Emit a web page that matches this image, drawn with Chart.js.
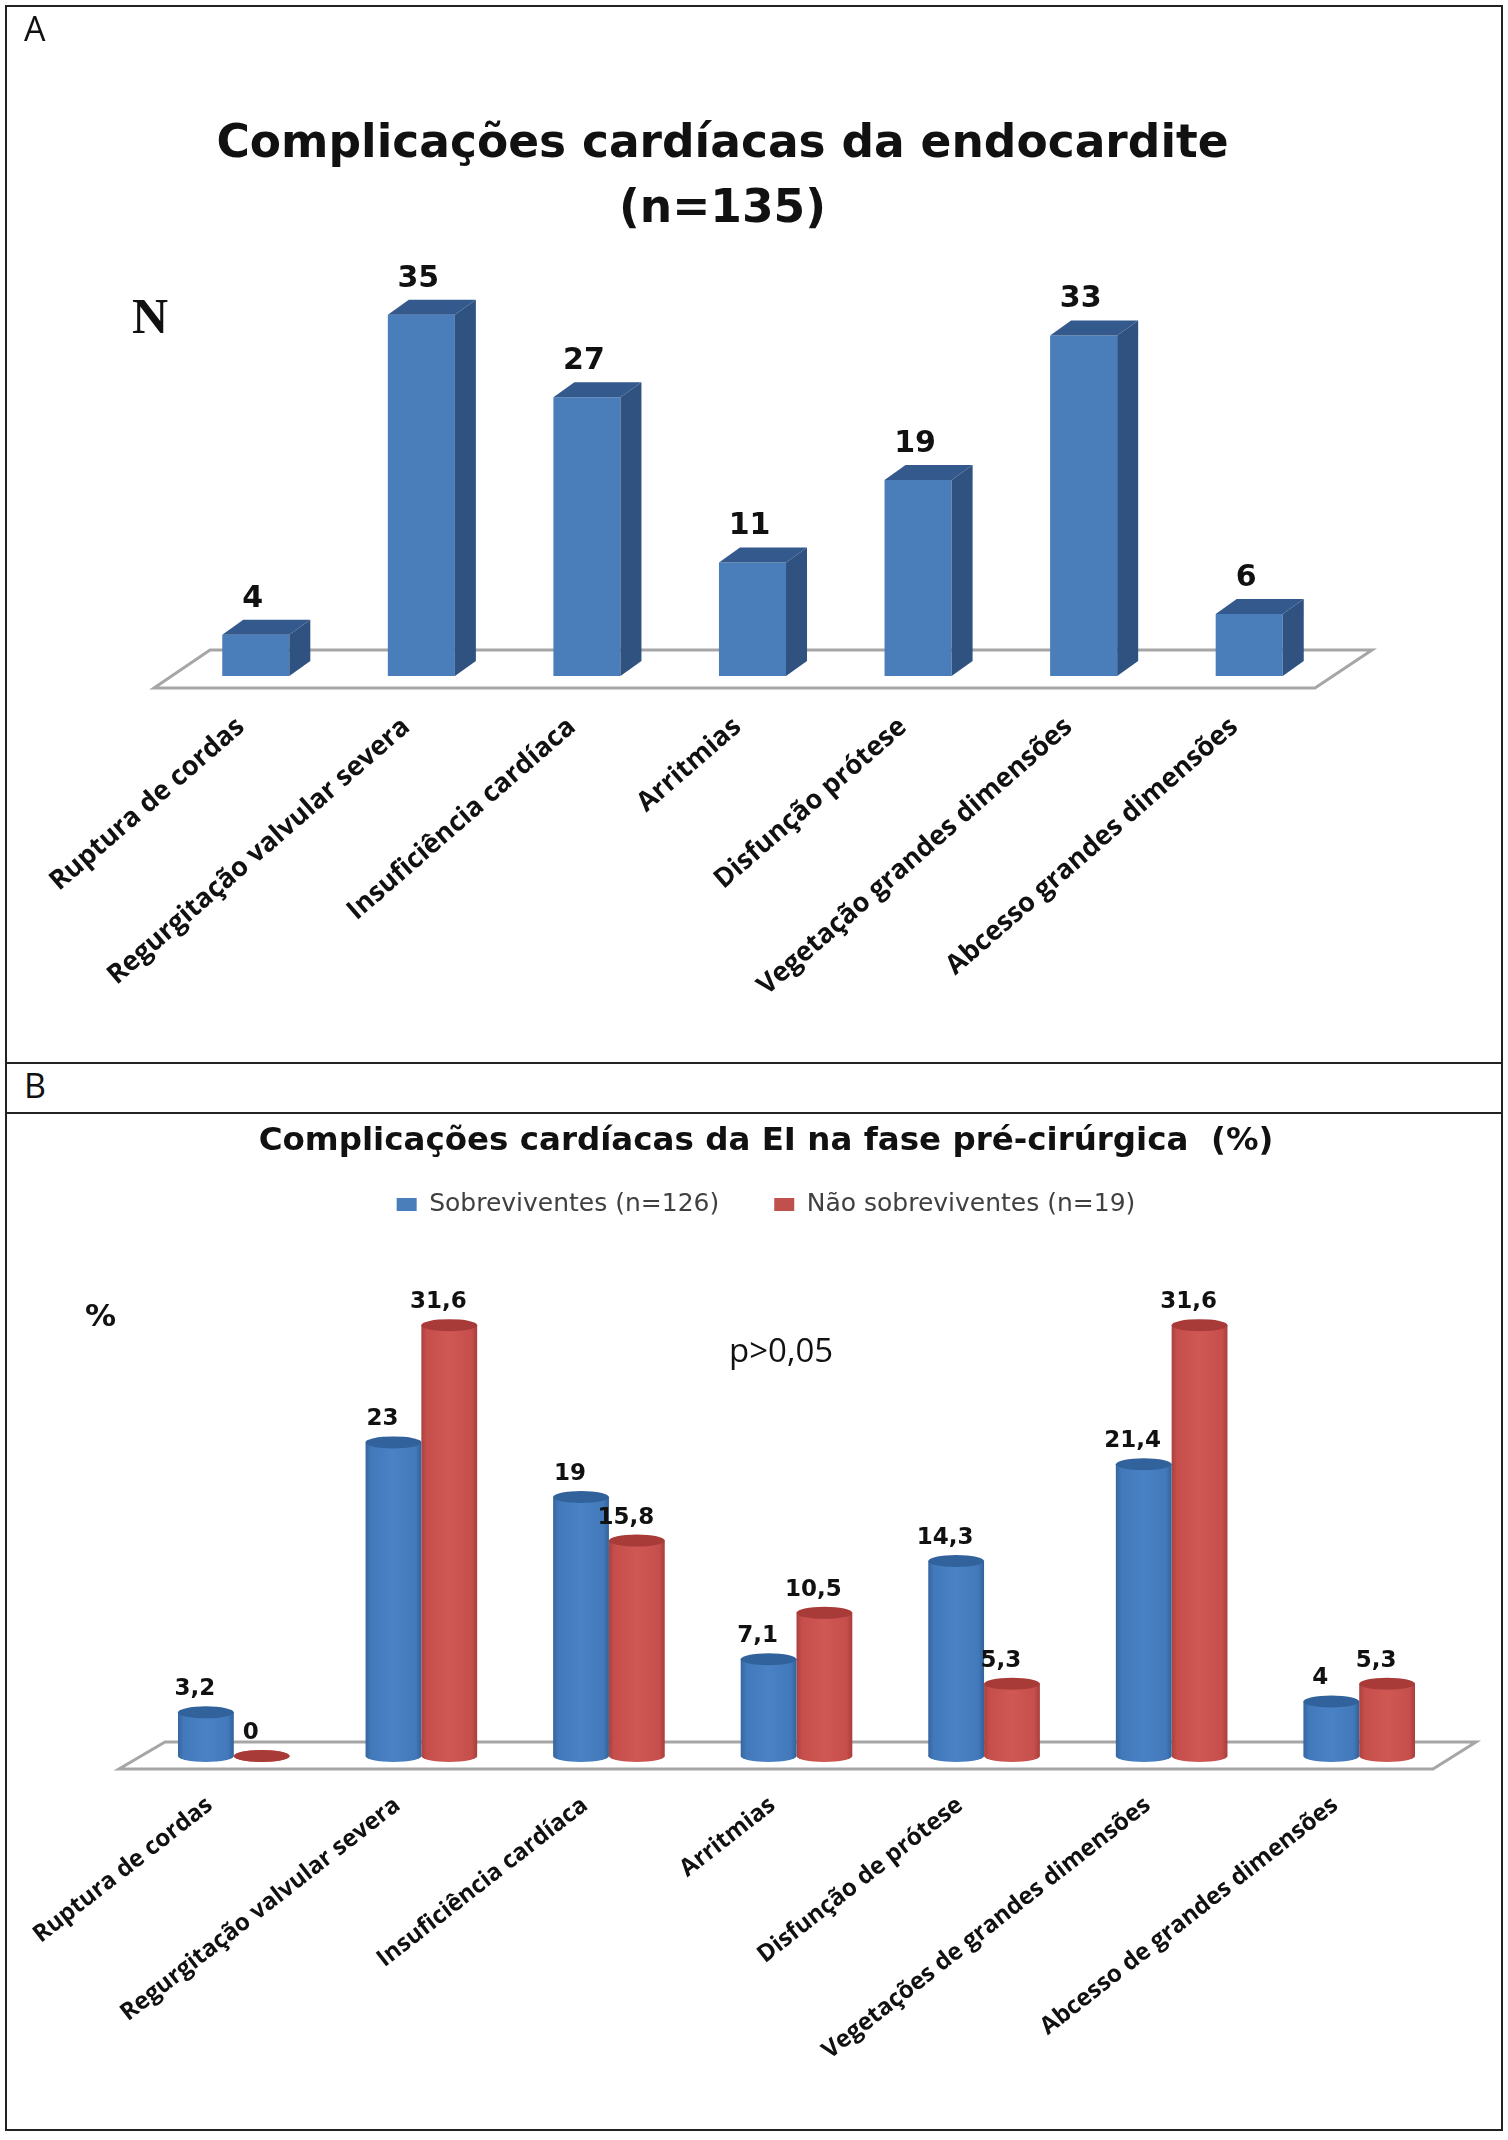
<!DOCTYPE html>
<html>
<head>
<meta charset="utf-8">
<title>Complicações cardíacas</title>
<script src="https://cdn.jsdelivr.net/npm/chart.js@4"></script>
<style>
    html, body { margin: 0; padding: 0; background: #fff; }
    #pagina { position: relative; width: 1508px; height: 2140px; overflow: hidden; }
    .quadro { position: absolute; left: 5px; width: 1498px; border: 2px solid #222; box-sizing: border-box; }
    canvas { position: absolute; display: block; }
    .texto { position: absolute; line-height: 1; color: #111; white-space: nowrap; }
</style>
</head>
<body>
<div id="pagina">
    <div class="quadro" style="top:5px;height:1059px"></div>
    <div class="quadro" style="top:1062px;height:52px"></div>
    <div class="quadro" style="top:1112px;height:1019px"></div>

    <canvas id="graficoA" width="1444" height="1054" style="left:0;top:6px"></canvas>
    <canvas id="graficoB" width="1480" height="1015" style="left:24px;top:1115px"></canvas>

    <div class="texto" style="left:24px;top:5px;font:34px 'Open Sans'">A</div>
    <div class="texto" style="left:24px;top:1062px;font:34px 'Open Sans'">B</div>
    <div class="texto" style="left:132px;top:287px;font:bold 50px 'Liberation Serif'">N</div>
    <div class="texto" style="left:85px;top:1297px;font:bold 31px 'DejaVu Sans'">%</div>
    <div class="texto" style="left:729px;top:1327px;font:33px 'Open Sans'">p&gt;0,05</div>
</div>

<script>
Chart.defaults.animation = false;

const categoriasA = ['Ruptura de cordas', 'Regurgitação valvular severa', 'Insuficiência cardíaca', 'Arritmias', 'Disfunção prótese', 'Vegetação grandes dimensões', 'Abcesso grandes dimensões'];
const valoresA = [4, 35, 27, 11, 19, 33, 6];

const categoriasB = ['Ruptura de cordas', 'Regurgitação valvular severa', 'Insuficiência cardíaca', 'Arritmias', 'Disfunção de prótese', 'Vegetações de grandes dimensões', 'Abcesso de grandes dimensões'];
const sobreviventes = [3.2, 23, 19, 7.1, 14.3, 21.4, 4];
const naoSobreviventes = [0, 31.6, 15.8, 10.5, 5.3, 31.6, 5.3];

const azulCilindro = ['#35659f', '#4279bb', '#4a82c6', '#4179ba', '#336199'];
const vermelhoCilindro = ['#ac403e', '#c64f4c', '#cf5855', '#c64f4c', '#a83d3b'];

// piso cinzento em perspectiva por baixo das barras
const piso = {
    id: 'piso',
    beforeDatasetsDraw(chart, args, o) {
        const { ctx, chartArea: a, scales } = chart;
        const y0 = scales.y.getPixelForValue(0);
        ctx.save();
        ctx.strokeStyle = '#a6a6a6';
        ctx.lineWidth = 3;
        ctx.beginPath();
        ctx.moveTo(a.left + o.frenteEsq, y0 + o.frente);
        ctx.lineTo(a.right + o.frenteDir, y0 + o.frente);
        ctx.lineTo(a.right + o.fundoDir, y0 - o.fundo);
        ctx.lineTo(a.left + o.fundoEsq, y0 - o.fundo);
        ctx.closePath();
        ctx.stroke();
        ctx.restore();
    }
};

// valores por cima das barras
const rotulos = {
    id: 'rotulos',
    afterDatasetsDraw(chart, args, o) {
        const { ctx } = chart;
        ctx.save();
        ctx.font = o.fonte;
        ctx.fillStyle = '#111';
        ctx.textAlign = 'center';
        ctx.textBaseline = 'middle';
        chart.data.datasets.forEach((ds, i) => {
            chart.getDatasetMeta(i).data.forEach((barra, j) => {
                ctx.fillText(String(ds.data[j]).replace('.', ','), barra.x + o.dx, barra.y + o.dy);
            });
        });
        ctx.restore();
    }
};

// face lateral e topo das caixas do grafico A
const caixas = {
    id: 'caixas',
    afterDatasetDraw(chart, args) {
        const { ctx } = chart;
        const dx = 21, dy = 15;
        args.meta.data.forEach(barra => {
            const d = barra.x + barra.width / 2;
            const e = barra.x - barra.width / 2;
            ctx.fillStyle = '#2f5280';
            ctx.beginPath();
            ctx.moveTo(d, barra.base);
            ctx.lineTo(d + dx, barra.base - dy);
            ctx.lineTo(d + dx, barra.y - dy);
            ctx.lineTo(d, barra.y);
            ctx.fill();
            ctx.fillStyle = '#34598c';
            ctx.beginPath();
            ctx.moveTo(e, barra.y);
            ctx.lineTo(e + dx, barra.y - dy);
            ctx.lineTo(d + dx, barra.y - dy);
            ctx.lineTo(d, barra.y);
            ctx.fill();
        });
    }
};

function gradiente(ctx, barra, cores) {
    const e = barra.x - barra.width / 2;
    const g = ctx.createLinearGradient(e, 0, e + barra.width, 0);
    [0, 0.1, 0.5, 0.9, 1].forEach((p, i) => g.addColorStop(p, cores[i]));
    return g;
}

function elipse(ctx, barra, y, ry) {
    ctx.beginPath();
    ctx.ellipse(barra.x, y, barra.width / 2, ry, 0, 0, Math.PI * 2);
    ctx.fill();
}

// tampas e bases dos cilindros do grafico B
const cilindros = {
    id: 'cilindros',
    beforeDatasetDraw(chart, args) {
        const { ctx } = chart;
        const cores = chart.data.datasets[args.index].cores;
        args.meta.data.forEach(barra => {
            const g = gradiente(ctx, barra, cores);
            barra.options = Object.assign({}, barra.options, { backgroundColor: g });
            ctx.fillStyle = g;
            elipse(ctx, barra, barra.base, 6);
        });
    },
    afterDatasetDraw(chart, args) {
        const { ctx } = chart;
        const ds = chart.data.datasets[args.index];
        args.meta.data.forEach(barra => {
            ctx.fillStyle = ds.tampa;
            elipse(ctx, barra, barra.y, 6);
        });
    }
};

new Chart(document.getElementById('graficoA'), {
    type: 'bar',
    data: {
        labels: categoriasA,
        datasets: [{
            data: valoresA,
            backgroundColor: '#4a7ebb',
            barPercentage: 0.405,
            categoryPercentage: 1
        }]
    },
    options: {
        responsive: false,
        layout: { padding: { left: 113, right: 112, top: 80 } },
        scales: {
            x: {
                grid: { display: false },
                border: { display: false },
                afterFit: s => { s.height = 384; },
                ticks: {
                    autoSkip: false,
                    minRotation: 41,
                    maxRotation: 41,
                    padding: 27,
                    labelOffset: -15,
                    color: '#111',
                    font: { family: 'Open Sans', weight: 'bold', size: 27 }
                }
            },
            // eixo invisivel so para reservar espaco e centrar o titulo como no original
            y: {
                min: 0,
                max: 40,
                grid: { display: false },
                border: { display: false },
                ticks: { display: false },
                afterFit: s => { s.width = 60; }
            }
        },
        plugins: {
            legend: { display: false },
            tooltip: { enabled: false },
            title: {
                display: true,
                text: ['Complicações cardíacas da endocardite', '(n=135)'],
                color: '#111',
                font: { family: 'DejaVu Sans', weight: 'bold', size: 45.5, lineHeight: 1.43 },
                padding: { top: 27, bottom: 20 }
            },
            piso: { frente: 12, fundo: 26, frenteEsq: -19, frenteDir: -17, fundoEsq: 37, fundoDir: 40 },
            rotulos: { fonte: 'bold 30px "DejaVu Sans"', dx: -3, dy: -36 }
        }
    },
    plugins: [piso, caixas, rotulos]
});

new Chart(document.getElementById('graficoB'), {
    type: 'bar',
    data: {
        labels: categoriasB,
        datasets: [{
            label: 'Sobreviventes (n=126)',
            data: sobreviventes,
            backgroundColor: '#4a7ebb',
            cores: azulCilindro,
            tampa: '#31629b',
            barPercentage: 1,
            categoryPercentage: 0.595
        }, {
            label: 'Não sobreviventes (n=19)',
            data: naoSobreviventes,
            backgroundColor: '#c0504d',
            cores: vermelhoCilindro,
            tampa: '#a83a38',
            barPercentage: 1,
            categoryPercentage: 0.595
        }]
    },
    options: {
        responsive: false,
        layout: { padding: { left: 55, right: 51, top: 7 } },
        scales: {
            x: {
                grid: { display: false },
                border: { display: false },
                afterFit: s => { s.height = 374; },
                ticks: {
                    autoSkip: false,
                    minRotation: 38,
                    maxRotation: 38,
                    padding: 27,
                    labelOffset: -24,
                    color: '#111',
                    font: { family: 'Open Sans', weight: 'bold', size: 24 }
                }
            },
            y: {
                min: 0,
                max: 38.8,
                grid: { display: false },
                border: { display: false },
                ticks: { display: false },
                afterFit: s => { s.width = 61; }
            }
        },
        plugins: {
            tooltip: { enabled: false },
            title: {
                display: true,
                text: 'Complicações cardíacas da EI na fase pré-cirúrgica  (%)',
                color: '#111',
                font: { family: 'DejaVu Sans', weight: 'bold', size: 32.5, lineHeight: 1.2 },
                padding: { top: 0, bottom: -24 }
            },
            legend: {
                labels: {
                    boxWidth: 20,
                    boxHeight: 13,
                    padding: 55,
                    color: '#404040',
                    font: { family: 'DejaVu Sans', size: 25 }
                }
            },
            piso: { frente: 13, fundo: 14, frenteEsq: -21, frenteDir: -20, fundoEsq: 25, fundoDir: 23 },
            rotulos: { fonte: 'bold 23px "DejaVu Sans"', dx: -11, dy: -23 }
        }
    },
    plugins: [piso, cilindros, rotulos]
});
</script>
</body>
</html>
